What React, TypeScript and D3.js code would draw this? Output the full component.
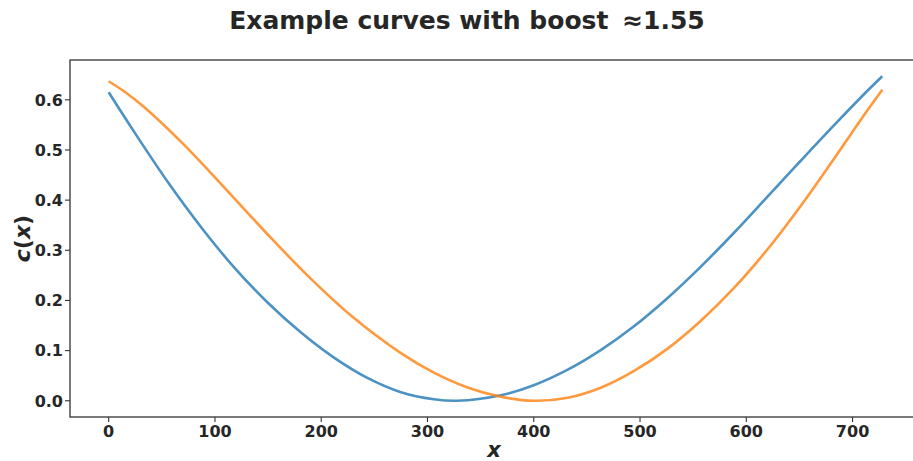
import React from "react";
import * as d3 from "d3";

// Sampled curve values c(x) for the two example curves
const blueX = [0, 24, 56, 87, 118, 150, 181, 212, 243, 275, 306, 328, 369, 400, 432, 463, 494, 526, 557, 588, 620, 651, 682, 714, 728];
const blueY = [0.615, 0.536, 0.435, 0.346, 0.266, 0.195, 0.136, 0.086, 0.046, 0.017, 0.003, 0.0, 0.011, 0.031, 0.062, 0.101, 0.148, 0.205, 0.267, 0.334, 0.407, 0.478, 0.548, 0.618, 0.647];

const orangeX = [0, 15, 33, 71, 108, 149, 187, 228, 275, 306, 337, 369, 400, 432, 463, 494, 526, 557, 588, 620, 651, 682, 714, 728];
const orangeY = [0.637, 0.616, 0.586, 0.510, 0.427, 0.333, 0.250, 0.170, 0.095, 0.056, 0.027, 0.008, 0.0, 0.006, 0.026, 0.059, 0.104, 0.159, 0.224, 0.302, 0.388, 0.481, 0.579, 0.620];

const xTicks = [0, 100, 200, 300, 400, 500, 600, 700];
const yTicks = [0.0, 0.1, 0.2, 0.3, 0.4, 0.5, 0.6];

const title = "Example curves with boost \u2009\u22481.55";

const W = 913;
const H = 461;
const FONT = "DejaVu Sans, sans-serif";
const TEXT = "#262626";

function padded(lo: number, hi: number): [number, number] {
  const m = (hi - lo) * 0.05;
  return [lo - m, hi + m];
}

export default function App() {
  const allX = [...blueX, ...orangeX];
  const allY = [...blueY, ...orangeY];
  const x = d3.scaleLinear().domain(padded(d3.min(allX)!, d3.max(allX)!)).range([70, 921]);
  const y = d3.scaleLinear().domain(padded(d3.min(allY)!, d3.max(allY)!)).range([417, 60]);

  const line = d3
    .line<[number, number]>()
    .x((d) => x(d[0]))
    .y((d) => y(d[1]))
    .curve(d3.curveCatmullRom.alpha(0.5));

  const series = [
    { xs: blueX, ys: blueY, color: "#1f77b4" },
    { xs: orangeX, ys: orangeY, color: "#ff7f0e" },
  ];

  const [x0, x1] = x.range();
  const [y0, y1] = y.range();

  return (
    <svg
      width={W}
      height={H}
      viewBox={`0 0 ${W} ${H}`}
      style={{ position: "absolute", left: 0, top: 0, background: "#fff" }}
      fontFamily={FONT}
    >
      <text x={467} y={29} textAnchor="middle" fontSize={25} fontWeight="bold" fill={TEXT}>
        {title}
      </text>

      {series.map((s, i) => (
        <path
          key={i}
          d={line(s.xs.map((v, j) => [v, s.ys[j]] as [number, number])) ?? ""}
          fill="none"
          stroke={s.color}
          strokeOpacity={0.8}
          strokeWidth={2.6}
          strokeLinejoin="round"
        />
      ))}

      {/* frame */}
      <rect x={x0} y={y1} width={x1 - x0} height={y0 - y1} fill="none" stroke="#333" strokeWidth={1.3} />

      {/* x axis */}
      {xTicks.map((t) => (
        <g key={t} transform={`translate(${x(t)},${y0})`}>
          <line y2={5} stroke="#333" strokeWidth={1.1} />
          <text y={20} textAnchor="middle" fontSize={16} fontWeight="bold" fill={TEXT}>
            {t}
          </text>
        </g>
      ))}

      {/* y axis */}
      {yTicks.map((t) => (
        <g key={t} transform={`translate(${x0},${y(t)})`}>
          <line x2={-5} stroke="#333" strokeWidth={1.1} />
          <text x={-7} dy="0.36em" textAnchor="end" fontSize={16} fontWeight="bold" fill={TEXT}>
            {t.toFixed(1)}
          </text>
        </g>
      ))}

      <text x={494} y={457} textAnchor="middle" fontSize={21} fontWeight="bold" fontStyle="italic" fill={TEXT}>
        x
      </text>
      <text
        transform={`translate(30,${(y0 + y1) / 2}) rotate(-90)`}
        textAnchor="middle"
        fontSize={22}
        fontWeight="bold"
        fill={TEXT}
      >
        <tspan fontStyle="italic">c</tspan>
        <tspan>(</tspan>
        <tspan fontStyle="italic">x</tspan>
        <tspan>)</tspan>
      </text>
    </svg>
  );
}
